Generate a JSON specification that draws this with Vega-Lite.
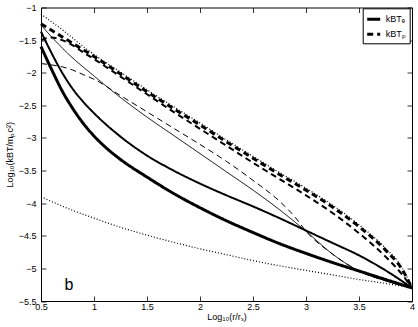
{
 "$schema": "https://vega.github.io/schema/vega-lite/v6.json",
 "width": 371,
 "height": 293.5,
 "autosize": {"type": "none"},
 "padding": {"left": 41, "top": 7.5, "right": 6, "bottom": 26},
 "background": "white",
 "config": {
  "font": "Liberation Sans",
  "view": {"stroke": null},
  "axis": {"domainColor": "black", "domainWidth": 1, "tickColor": "black", "tickSize": -5, "tickWidth": 0.8, "labelColor": "black", "labelFontSize": 9, "labelFont": "Liberation Sans", "titleFont": "Liberation Sans", "titleFontWeight": "normal", "titleColor": "black", "titleFontSize": 9, "grid": false, "labelFlush": false, "labelOverlap": false}
 },
 "datasets": {
  "bounds": [
   {"curve": "d1", "x": 0.5, "y": -1.1}, {"curve": "d1", "x": 0.6, "y": -1.22}, {"curve": "d1", "x": 0.7, "y": -1.34}, {"curve": "d1", "x": 0.8, "y": -1.47}, {"curve": "d1", "x": 0.9, "y": -1.6}, {"curve": "d1", "x": 1.0, "y": -1.72}, {"curve": "d1", "x": 1.25, "y": -1.99}, {"curve": "d1", "x": 1.5, "y": -2.26}, {"curve": "d1", "x": 1.75, "y": -2.52}, {"curve": "d1", "x": 2.0, "y": -2.77}, {"curve": "d1", "x": 2.25, "y": -3.03}, {"curve": "d1", "x": 2.5, "y": -3.28}, {"curve": "d1", "x": 2.75, "y": -3.53}, {"curve": "d1", "x": 3.0, "y": -3.77}, {"curve": "d1", "x": 3.25, "y": -4.03}, {"curve": "d1", "x": 3.5, "y": -4.33}, {"curve": "d1", "x": 3.75, "y": -4.69}, {"curve": "d1", "x": 3.9, "y": -4.97}, {"curve": "d1", "x": 4.0, "y": -5.3},
   {"curve": "d2", "x": 0.5, "y": -3.9}, {"curve": "d2", "x": 0.75, "y": -4.08}, {"curve": "d2", "x": 1.0, "y": -4.23}, {"curve": "d2", "x": 1.25, "y": -4.37}, {"curve": "d2", "x": 1.5, "y": -4.49}, {"curve": "d2", "x": 1.75, "y": -4.6}, {"curve": "d2", "x": 2.0, "y": -4.7}, {"curve": "d2", "x": 2.25, "y": -4.79}, {"curve": "d2", "x": 2.5, "y": -4.88}, {"curve": "d2", "x": 2.75, "y": -4.96}, {"curve": "d2", "x": 3.0, "y": -5.03}, {"curve": "d2", "x": 3.25, "y": -5.1}, {"curve": "d2", "x": 3.5, "y": -5.17}, {"curve": "d2", "x": 3.75, "y": -5.23}, {"curve": "d2", "x": 4.0, "y": -5.3}
  ],
  "curves": [
   {"curve": "e1", "species": "kBTₑ", "weight": "thick", "x": 0.5, "y": -1.6}, {"curve": "e1", "species": "kBTₑ", "weight": "thick", "x": 0.6, "y": -1.95}, {"curve": "e1", "species": "kBTₑ", "weight": "thick", "x": 0.7, "y": -2.28}, {"curve": "e1", "species": "kBTₑ", "weight": "thick", "x": 0.8, "y": -2.55}, {"curve": "e1", "species": "kBTₑ", "weight": "thick", "x": 0.9, "y": -2.78}, {"curve": "e1", "species": "kBTₑ", "weight": "thick", "x": 1.0, "y": -2.97}, {"curve": "e1", "species": "kBTₑ", "weight": "thick", "x": 1.1, "y": -3.13}, {"curve": "e1", "species": "kBTₑ", "weight": "thick", "x": 1.25, "y": -3.33}, {"curve": "e1", "species": "kBTₑ", "weight": "thick", "x": 1.5, "y": -3.6}, {"curve": "e1", "species": "kBTₑ", "weight": "thick", "x": 1.75, "y": -3.85}, {"curve": "e1", "species": "kBTₑ", "weight": "thick", "x": 2.0, "y": -4.07}, {"curve": "e1", "species": "kBTₑ", "weight": "thick", "x": 2.25, "y": -4.27}, {"curve": "e1", "species": "kBTₑ", "weight": "thick", "x": 2.5, "y": -4.45}, {"curve": "e1", "species": "kBTₑ", "weight": "thick", "x": 2.75, "y": -4.62}, {"curve": "e1", "species": "kBTₑ", "weight": "thick", "x": 3.0, "y": -4.77}, {"curve": "e1", "species": "kBTₑ", "weight": "thick", "x": 3.25, "y": -4.91}, {"curve": "e1", "species": "kBTₑ", "weight": "thick", "x": 3.5, "y": -5.04}, {"curve": "e1", "species": "kBTₑ", "weight": "thick", "x": 3.75, "y": -5.17}, {"curve": "e1", "species": "kBTₑ", "weight": "thick", "x": 4.0, "y": -5.3},
   {"curve": "e2", "species": "kBTₑ", "weight": "medium", "x": 0.5, "y": -1.37}, {"curve": "e2", "species": "kBTₑ", "weight": "medium", "x": 0.6, "y": -1.7}, {"curve": "e2", "species": "kBTₑ", "weight": "medium", "x": 0.7, "y": -2.0}, {"curve": "e2", "species": "kBTₑ", "weight": "medium", "x": 0.8, "y": -2.25}, {"curve": "e2", "species": "kBTₑ", "weight": "medium", "x": 0.9, "y": -2.45}, {"curve": "e2", "species": "kBTₑ", "weight": "medium", "x": 1.0, "y": -2.62}, {"curve": "e2", "species": "kBTₑ", "weight": "medium", "x": 1.25, "y": -2.98}, {"curve": "e2", "species": "kBTₑ", "weight": "medium", "x": 1.5, "y": -3.27}, {"curve": "e2", "species": "kBTₑ", "weight": "medium", "x": 1.75, "y": -3.5}, {"curve": "e2", "species": "kBTₑ", "weight": "medium", "x": 2.0, "y": -3.7}, {"curve": "e2", "species": "kBTₑ", "weight": "medium", "x": 2.25, "y": -3.88}, {"curve": "e2", "species": "kBTₑ", "weight": "medium", "x": 2.5, "y": -4.05}, {"curve": "e2", "species": "kBTₑ", "weight": "medium", "x": 2.75, "y": -4.23}, {"curve": "e2", "species": "kBTₑ", "weight": "medium", "x": 3.0, "y": -4.42}, {"curve": "e2", "species": "kBTₑ", "weight": "medium", "x": 3.25, "y": -4.61}, {"curve": "e2", "species": "kBTₑ", "weight": "medium", "x": 3.5, "y": -4.8}, {"curve": "e2", "species": "kBTₑ", "weight": "medium", "x": 3.75, "y": -5.03}, {"curve": "e2", "species": "kBTₑ", "weight": "medium", "x": 4.0, "y": -5.3},
   {"curve": "e3", "species": "kBTₑ", "weight": "thin", "x": 0.5, "y": -1.27}, {"curve": "e3", "species": "kBTₑ", "weight": "thin", "x": 0.6, "y": -1.45}, {"curve": "e3", "species": "kBTₑ", "weight": "thin", "x": 0.75, "y": -1.7}, {"curve": "e3", "species": "kBTₑ", "weight": "thin", "x": 1.0, "y": -2.05}, {"curve": "e3", "species": "kBTₑ", "weight": "thin", "x": 1.25, "y": -2.38}, {"curve": "e3", "species": "kBTₑ", "weight": "thin", "x": 1.5, "y": -2.68}, {"curve": "e3", "species": "kBTₑ", "weight": "thin", "x": 1.75, "y": -2.96}, {"curve": "e3", "species": "kBTₑ", "weight": "thin", "x": 2.0, "y": -3.24}, {"curve": "e3", "species": "kBTₑ", "weight": "thin", "x": 2.25, "y": -3.52}, {"curve": "e3", "species": "kBTₑ", "weight": "thin", "x": 2.5, "y": -3.8}, {"curve": "e3", "species": "kBTₑ", "weight": "thin", "x": 2.75, "y": -4.1}, {"curve": "e3", "species": "kBTₑ", "weight": "thin", "x": 3.0, "y": -4.43}, {"curve": "e3", "species": "kBTₑ", "weight": "thin", "x": 3.25, "y": -4.78}, {"curve": "e3", "species": "kBTₑ", "weight": "thin", "x": 3.5, "y": -5.04}, {"curve": "e3", "species": "kBTₑ", "weight": "thin", "x": 3.75, "y": -5.19}, {"curve": "e3", "species": "kBTₑ", "weight": "thin", "x": 4.0, "y": -5.3},
   {"curve": "p1", "species": "kBTₚ", "weight": "thick", "x": 0.5, "y": -1.25}, {"curve": "p1", "species": "kBTₚ", "weight": "thick", "x": 0.6, "y": -1.35}, {"curve": "p1", "species": "kBTₚ", "weight": "thick", "x": 0.7, "y": -1.45}, {"curve": "p1", "species": "kBTₚ", "weight": "thick", "x": 0.8, "y": -1.55}, {"curve": "p1", "species": "kBTₚ", "weight": "thick", "x": 0.9, "y": -1.65}, {"curve": "p1", "species": "kBTₚ", "weight": "thick", "x": 1.0, "y": -1.75}, {"curve": "p1", "species": "kBTₚ", "weight": "thick", "x": 1.25, "y": -2.02}, {"curve": "p1", "species": "kBTₚ", "weight": "thick", "x": 1.5, "y": -2.29}, {"curve": "p1", "species": "kBTₚ", "weight": "thick", "x": 1.75, "y": -2.55}, {"curve": "p1", "species": "kBTₚ", "weight": "thick", "x": 2.0, "y": -2.8}, {"curve": "p1", "species": "kBTₚ", "weight": "thick", "x": 2.25, "y": -3.06}, {"curve": "p1", "species": "kBTₚ", "weight": "thick", "x": 2.5, "y": -3.31}, {"curve": "p1", "species": "kBTₚ", "weight": "thick", "x": 2.75, "y": -3.56}, {"curve": "p1", "species": "kBTₚ", "weight": "thick", "x": 3.0, "y": -3.8}, {"curve": "p1", "species": "kBTₚ", "weight": "thick", "x": 3.25, "y": -4.06}, {"curve": "p1", "species": "kBTₚ", "weight": "thick", "x": 3.5, "y": -4.36}, {"curve": "p1", "species": "kBTₚ", "weight": "thick", "x": 3.75, "y": -4.72}, {"curve": "p1", "species": "kBTₚ", "weight": "thick", "x": 3.9, "y": -5.0}, {"curve": "p1", "species": "kBTₚ", "weight": "thick", "x": 4.0, "y": -5.3},
   {"curve": "p2", "species": "kBTₚ", "weight": "medium", "x": 0.5, "y": -1.5}, {"curve": "p2", "species": "kBTₚ", "weight": "medium", "x": 0.55, "y": -1.47}, {"curve": "p2", "species": "kBTₚ", "weight": "medium", "x": 0.6, "y": -1.46}, {"curve": "p2", "species": "kBTₚ", "weight": "medium", "x": 0.7, "y": -1.5}, {"curve": "p2", "species": "kBTₚ", "weight": "medium", "x": 0.8, "y": -1.58}, {"curve": "p2", "species": "kBTₚ", "weight": "medium", "x": 0.9, "y": -1.69}, {"curve": "p2", "species": "kBTₚ", "weight": "medium", "x": 1.0, "y": -1.79}, {"curve": "p2", "species": "kBTₚ", "weight": "medium", "x": 1.25, "y": -2.06}, {"curve": "p2", "species": "kBTₚ", "weight": "medium", "x": 1.5, "y": -2.33}, {"curve": "p2", "species": "kBTₚ", "weight": "medium", "x": 1.75, "y": -2.6}, {"curve": "p2", "species": "kBTₚ", "weight": "medium", "x": 2.0, "y": -2.86}, {"curve": "p2", "species": "kBTₚ", "weight": "medium", "x": 2.25, "y": -3.12}, {"curve": "p2", "species": "kBTₚ", "weight": "medium", "x": 2.5, "y": -3.38}, {"curve": "p2", "species": "kBTₚ", "weight": "medium", "x": 2.75, "y": -3.63}, {"curve": "p2", "species": "kBTₚ", "weight": "medium", "x": 3.0, "y": -3.88}, {"curve": "p2", "species": "kBTₚ", "weight": "medium", "x": 3.25, "y": -4.15}, {"curve": "p2", "species": "kBTₚ", "weight": "medium", "x": 3.5, "y": -4.46}, {"curve": "p2", "species": "kBTₚ", "weight": "medium", "x": 3.75, "y": -4.82}, {"curve": "p2", "species": "kBTₚ", "weight": "medium", "x": 3.9, "y": -5.08}, {"curve": "p2", "species": "kBTₚ", "weight": "medium", "x": 4.0, "y": -5.3},
   {"curve": "p3", "species": "kBTₚ", "weight": "thin", "x": 0.5, "y": -1.86}, {"curve": "p3", "species": "kBTₚ", "weight": "thin", "x": 0.6, "y": -1.88}, {"curve": "p3", "species": "kBTₚ", "weight": "thin", "x": 0.7, "y": -1.91}, {"curve": "p3", "species": "kBTₚ", "weight": "thin", "x": 0.8, "y": -1.96}, {"curve": "p3", "species": "kBTₚ", "weight": "thin", "x": 0.9, "y": -2.03}, {"curve": "p3", "species": "kBTₚ", "weight": "thin", "x": 1.0, "y": -2.1}, {"curve": "p3", "species": "kBTₚ", "weight": "thin", "x": 1.25, "y": -2.35}, {"curve": "p3", "species": "kBTₚ", "weight": "thin", "x": 1.5, "y": -2.6}, {"curve": "p3", "species": "kBTₚ", "weight": "thin", "x": 1.75, "y": -2.85}, {"curve": "p3", "species": "kBTₚ", "weight": "thin", "x": 2.0, "y": -3.1}, {"curve": "p3", "species": "kBTₚ", "weight": "thin", "x": 2.25, "y": -3.36}, {"curve": "p3", "species": "kBTₚ", "weight": "thin", "x": 2.5, "y": -3.65}, {"curve": "p3", "species": "kBTₚ", "weight": "thin", "x": 2.75, "y": -3.97}, {"curve": "p3", "species": "kBTₚ", "weight": "thin", "x": 2.9, "y": -4.22}, {"curve": "p3", "species": "kBTₚ", "weight": "thin", "x": 3.0, "y": -4.43}, {"curve": "p3", "species": "kBTₚ", "weight": "thin", "x": 3.25, "y": -4.78}, {"curve": "p3", "species": "kBTₚ", "weight": "thin", "x": 3.5, "y": -5.04}, {"curve": "p3", "species": "kBTₚ", "weight": "thin", "x": 3.75, "y": -5.19}, {"curve": "p3", "species": "kBTₚ", "weight": "thin", "x": 4.0, "y": -5.3}
  ]
 },
 "layer": [
  {
   "data": {"name": "bounds"},
   "mark": {"type": "line", "strokeDash": [1, 2], "strokeWidth": 1.2, "color": "black", "interpolate": "monotone"},
   "encoding": {
    "x": {"field": "x", "type": "quantitative", "scale": {"domain": [0.5, 4], "nice": false, "zero": false},
     "axis": {"orient": "bottom", "values": [0.5, 1, 1.5, 2, 2.5, 3, 3.5, 4], "format": "~g", "title": "Log₁₀(r/rₛ)", "labelPadding": 6, "titlePadding": 1}},
    "y": {"field": "y", "type": "quantitative", "scale": {"domain": [-5.5, -1], "nice": false, "zero": false},
     "axis": {"orient": "left", "values": [-5.5, -5, -4.5, -4, -3.5, -3, -2.5, -2, -1.5, -1], "format": "~g", "title": "Log₁₀(kBT/mₚc²)", "labelPadding": 10, "titlePadding": 4}},
    "detail": {"field": "curve"}
   }
  },
  {
   "data": {"name": "curves"},
   "mark": {"type": "line", "color": "black", "interpolate": "monotone"},
   "encoding": {
    "x": {"field": "x", "type": "quantitative", "scale": {"domain": [0.5, 4], "nice": false, "zero": false}, "axis": null},
    "y": {"field": "y", "type": "quantitative", "scale": {"domain": [-5.5, -1], "nice": false, "zero": false}, "axis": null},
    "detail": {"field": "curve"},
    "strokeWidth": {"field": "weight", "type": "nominal", "scale": {"type": "ordinal", "domain": ["thick", "medium", "thin"], "range": [3, 2, 1]}, "legend": null},
    "strokeDash": {"field": "species", "type": "nominal", "scale": {"domain": ["kBTₑ", "kBTₚ"], "range": [[1, 0], [6, 4]]},
     "legend": {"title": null, "orient": "none", "legendX": 321.7, "legendY": 0.8, "strokeColor": "black", "fillColor": "white", "padding": 3, "symbolType": "stroke", "symbolStrokeWidth": 3, "symbolSize": 169, "symbolStrokeColor": "black", "labelFontSize": 9, "labelFont": "Liberation Sans", "labelColor": "black", "rowPadding": 1, "labelOffset": 4, "cornerRadius": 0}}
   }
  },
  {
   "data": {"values": [{"t": "b"}]},
   "mark": {"type": "text", "fontSize": 16, "font": "Liberation Sans", "align": "center", "baseline": "alphabetic", "color": "black"},
   "encoding": {
    "text": {"field": "t"},
    "x": {"datum": 0.764, "type": "quantitative", "scale": {"domain": [0.5, 4], "nice": false, "zero": false},
     "axis": {"orient": "top", "values": [0.5, 1, 1.5, 2, 2.5, 3, 3.5, 4], "labels": false, "title": null}},
    "y": {"datum": -5.333, "type": "quantitative", "scale": {"domain": [-5.5, -1], "nice": false, "zero": false},
     "axis": {"orient": "right", "values": [-5.5, -5, -4.5, -4, -3.5, -3, -2.5, -2, -1.5, -1], "labels": false, "title": null}}
   }
  }
 ],
 "resolve": {"axis": {"x": "independent", "y": "independent"}}
}
